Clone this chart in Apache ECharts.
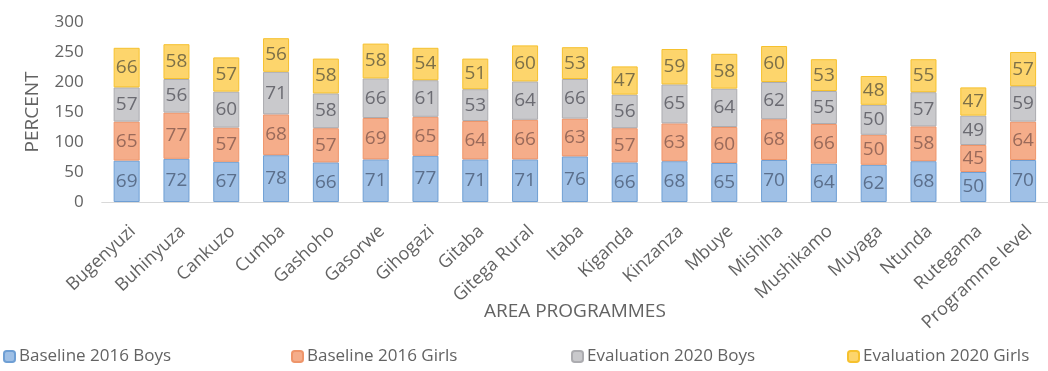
<!DOCTYPE html>
<html>
<head>
<meta charset="utf-8">
<script src="https://cdn.jsdelivr.net/npm/echarts@6/dist/echarts.min.js"></script>
<style>
  html, body { margin: 0; padding: 0; background: #fff; }
  #main { width: 1048px; height: 371px; }
</style>
</head>
<body>
<div id="main"></div>
<script>
// 区域名称
var areas = ['Bugenyuzi', 'Buhinyuza', 'Cankuzo', 'Cumba', 'Gashoho', 'Gasorwe', 'Gihogazi', 'Gitaba',
  'Gitega Rural', 'Itaba', 'Kiganda', 'Kinzanza', 'Mbuye', 'Mishiha', 'Mushikamo', 'Muyaga',
  'Ntunda', 'Rutegama', 'Programme level'];

var baselineBoys  = [69, 72, 67, 78, 66, 71, 77, 71, 71, 76, 66, 68, 65, 70, 64, 62, 68, 50, 70];
var baselineGirls = [65, 77, 57, 68, 57, 69, 65, 64, 66, 63, 57, 63, 60, 68, 66, 50, 58, 45, 64];
var evalBoys      = [57, 56, 60, 71, 58, 66, 61, 53, 64, 66, 56, 65, 64, 62, 55, 50, 57, 49, 59];
var evalGirls     = [66, 58, 57, 56, 58, 58, 54, 51, 60, 53, 47, 59, 58, 60, 53, 48, 55, 47, 57];

var seriesNames = ['Baseline 2016 Boys', 'Baseline 2016 Girls', 'Evaluation 2020 Boys', 'Evaluation 2020 Girls'];
var yTicks = [0, 50, 100, 150, 200, 250, 300];

var FONT = '"Open Sans", sans-serif';
var fills   = ['#9fc0e6', '#f5ad8a', '#c9c9cc', '#fdd56c'];
var borders = ['#6f9fd4', '#ee956a', '#acacb0', '#f6c12e'];
var labelColors = ['#5b6f8c', '#9a6a5a', '#6b6b72', '#7d7048'];
var legendLeft = [3, 291, 571, 847];

var myChart = echarts.init(document.getElementById('main'));

function mkSeries(i, data) {
  return {
    name: seriesNames[i],
    type: 'bar',
    stack: 'total',
    barWidth: 26,
    data: data,
    itemStyle: { color: fills[i], borderColor: borders[i], borderWidth: 1 },
    label: {
      show: true,
      position: 'inside',
      color: labelColors[i],
      fontFamily: FONT,
      fontSize: 19
    }
  };
}

var option = {
  animation: false,
  grid: { left: 101.75, right: -13.25, top: 22, bottom: 169, containLabel: false },
  // 图例分开定位
  legend: seriesNames.map(function (n, i) {
    return {
      data: [n],
      left: legendLeft[i],
      top: 348,
      padding: 0,
      itemWidth: 11,
      itemHeight: 11,
      itemGap: 0,
      textStyle: { color: '#636363', fontSize: 17, fontFamily: FONT, padding: [0, 0, 0, -1] }
    };
  }),
  xAxis: {
    type: 'category',
    data: areas,
    name: 'AREA PROGRAMMES',
    nameLocation: 'middle',
    nameGap: 100,
    nameMoveOverlap: false,
    nameTextStyle: { color: '#636363', fontSize: 19, fontFamily: FONT },
    axisLine: { lineStyle: { color: '#d9d9d9' } },
    axisTick: { show: false },
    axisLabel: {
      rotate: 43,
      interval: 0,
      margin: 20,
      verticalAlign: 'top',
      color: '#636363',
      fontSize: 18,
      fontFamily: FONT
    }
  },
  yAxis: {
    type: 'value',
    min: yTicks[0],
    max: yTicks[yTicks.length - 1],
    interval: 50,
    name: 'PERCENT',
    nameLocation: 'middle',
    nameRotate: 90,
    nameGap: 60,
    nameMoveOverlap: false,
    nameTextStyle: { color: '#636363', fontSize: 19, fontFamily: FONT },
    splitLine: { show: false },
    axisLine: { show: false },
    axisTick: { show: false },
    axisLabel: { color: '#636363', fontSize: 17, fontFamily: FONT, margin: 18 }
  },
  series: [
    mkSeries(0, baselineBoys),
    mkSeries(1, baselineGirls),
    mkSeries(2, evalBoys),
    mkSeries(3, evalGirls)
  ]
};
myChart.setOption(option);
</script>
</body>
</html>
